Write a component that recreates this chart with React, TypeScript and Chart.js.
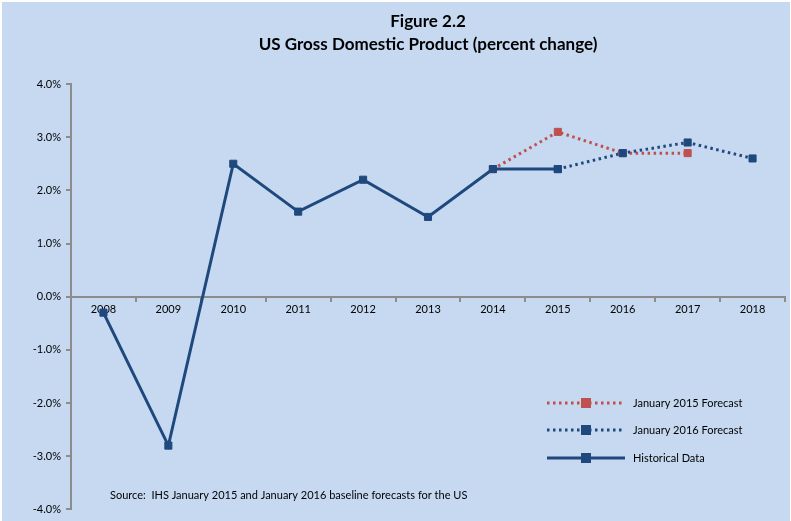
import React, { useEffect, useRef } from "react";
import { Chart, registerables } from "chart.js";

Chart.register(...registerables);

const years = ["2008", "2009", "2010", "2011", "2012", "2013", "2014", "2015", "2016", "2017", "2018"];
const historical = [-0.3, -2.8, 2.5, 1.6, 2.2, 1.5, 2.4, 2.4, null, null, null];
const forecast2015 = [null, null, null, null, null, null, 2.4, 3.1, 2.7, 2.7, null];
const forecast2016 = [null, null, null, null, null, null, null, 2.4, 2.7, 2.9, 2.6];
const titleLines = ["Figure 2.2", "US Gross Domestic Product (percent change)"];
const sourceText = "Source:  IHS January 2015 and January 2016 baseline forecasts for the US";
const legendLabels = ["January 2015 Forecast", "January 2016 Forecast", "Historical Data"];

const NAVY = "#1F497D";
const RED = "#C0504D";
const BG = "#C6D9F1";
const FONT = "Lato, 'Open Sans', sans-serif";

const decorPlugin = {
  id: "decor",
  beforeDraw(chart: any) {
    const { ctx, width, height } = chart;
    ctx.save();
    ctx.fillStyle = "#ffffff";
    ctx.fillRect(0, 0, width, height);
    ctx.fillStyle = BG;
    ctx.fillRect(2, 2, width - 3, height - 2);
    ctx.restore();
  },
  afterDraw(chart: any) {
    const { ctx, chartArea } = chart;
    ctx.save();
    // title
    const cx = (chartArea.left + chartArea.right) / 2;
    ctx.fillStyle = "#000";
    ctx.textAlign = "center";
    ctx.textBaseline = "middle";
    ctx.font = `bold 17px ${FONT}`;
    ctx.fillText(titleLines[0], cx, 22);
    ctx.fillText(titleLines[1], cx, 45);
    // source
    ctx.textAlign = "left";
    ctx.font = `11px ${FONT}`;
    ctx.fillText(sourceText, 110, 495);
    // legend
    const items = [
      { label: legendLabels[0], color: RED, dash: [2.5, 3.5], width: 3 },
      { label: legendLabels[1], color: NAVY, dash: [2.5, 3.5], width: 3 },
      { label: legendLabels[2], color: NAVY, dash: [], width: 3 },
    ];
    const ys = [403, 430, 458];
    items.forEach((it, i) => {
      const y = ys[i];
      ctx.strokeStyle = it.color;
      ctx.lineWidth = it.width;
      ctx.setLineDash(it.dash);
      ctx.beginPath();
      ctx.moveTo(547, y);
      ctx.lineTo(625, y);
      ctx.stroke();
      ctx.setLineDash([]);
      ctx.fillStyle = it.color;
      ctx.fillRect(586 - 5, y - 5, 10, 10);
      ctx.fillStyle = "#000";
      ctx.font = `11px ${FONT}`;
      ctx.textBaseline = "middle";
      ctx.fillText(it.label, 633, y);
    });
    ctx.restore();
  },
};

export default function App() {
  const ref = useRef<HTMLCanvasElement>(null);
  useEffect(() => {
    document.body.style.margin = "0";
    const dsBase = {
      pointStyle: "rect",
      pointRadius: 5,
      pointHoverRadius: 5,
      borderWidth: 3,
      tension: 0,
      spanGaps: false,
    };
    const chart = new Chart(ref.current!, {
      type: "line",
      data: {
        labels: years,
        datasets: [
          {
            ...dsBase,
            label: legendLabels[2],
            data: historical,
            borderColor: NAVY,
            backgroundColor: NAVY,
            pointBackgroundColor: NAVY,
            pointBorderColor: NAVY,
            pointBorderWidth: 1,
          },
          {
            ...dsBase,
            label: legendLabels[1],
            data: forecast2016,
            borderColor: NAVY,
            backgroundColor: NAVY,
            borderDash: [2.5, 3.5],
            pointBackgroundColor: NAVY,
            pointBorderColor: NAVY,
            pointBorderWidth: 1,
          },
          {
            ...dsBase,
            label: legendLabels[0],
            data: forecast2015,
            borderColor: RED,
            backgroundColor: RED,
            borderDash: [2.5, 3.5],
            pointBackgroundColor: RED,
            pointBorderColor: RED,
            pointBorderWidth: 1,
          },
        ] as any,
      },
      options: {
        animation: false,
        responsive: false,
        devicePixelRatio: 1,
        layout: { padding: { left: 0, top: 84, right: 6, bottom: 11 } },
        plugins: {
          legend: { display: false },
          title: { display: false },
          tooltip: { enabled: false },
        },
        scales: {
          x: {
            position: { y: 0 } as any,
            offset: true,
            grid: {
              display: true,
              drawOnChartArea: false,
              drawTicks: true,
              tickLength: 4,
              offset: true,
              color: "#8C8C8C",
              lineWidth: 2,
            },
            border: { display: true, color: "#8C8C8C", width: 2 },
            ticks: {
              color: "#000",
              font: { family: FONT, size: 11 },
              padding: 2,
              maxRotation: 0,
              autoSkip: false,
            },
          },
          y: {
            min: -4,
            max: 4,
            afterFit(scale: any) {
              scale.width = 71;
            },
            grid: {
              display: true,
              drawOnChartArea: false,
              drawTicks: true,
              tickLength: 5,
              color: "#8C8C8C",
              lineWidth: 2,
            },
            border: { display: true, color: "#8C8C8C", width: 2 },
            ticks: {
              stepSize: 1,
              color: "#000",
              font: { family: FONT, size: 11 },
              padding: 5,
              callback: (v: any) => Number(v).toFixed(1) + "%",
            },
          },
        },
      },
      plugins: [decorPlugin],
    });
    return () => chart.destroy();
  }, []);
  return (
    <div style={{ position: "fixed", left: 0, top: 0, width: 791, height: 521 }}>
      <canvas ref={ref} width={791} height={521} style={{ width: 791, height: 521, display: "block" }} />
    </div>
  );
}
